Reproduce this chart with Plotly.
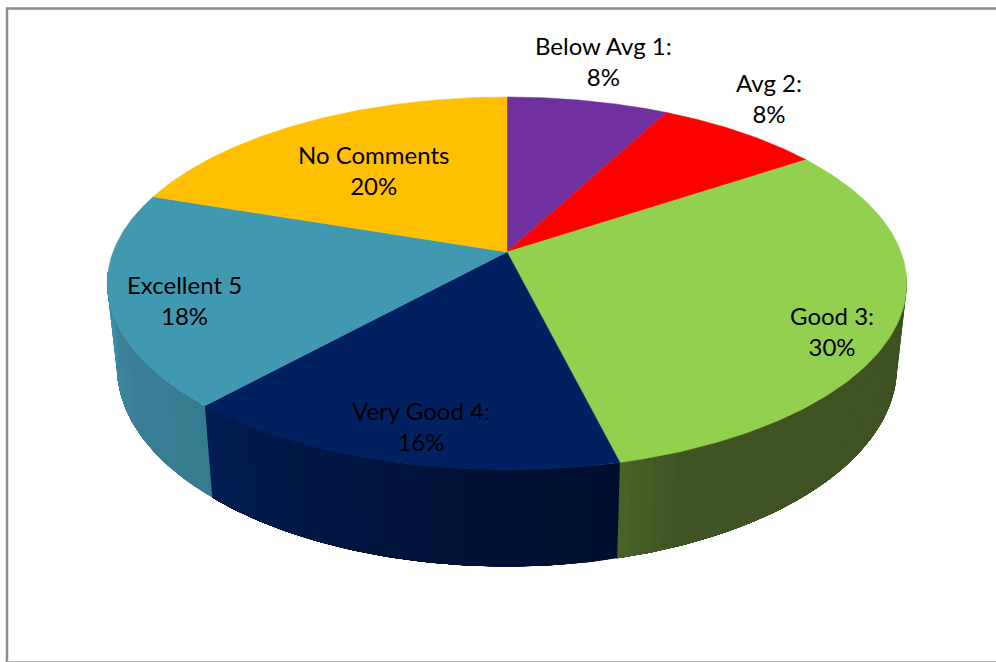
import numpy as np
import plotly.graph_objects as go

# ---- data ----
labels = ["Below Avg 1:", "Avg 2:", "Good 3:", "Very Good 4:", "Excellent 5", "No Comments"]
percent_labels = [8, 8, 30, 16, 18, 20]
# slice sizes as measured on the picture (percent of the full circle)
slice_shares = [7.7, 7.9, 30.55, 15.55, 18.5, 19.8]

# ---- styles ----
top_colors = ["#7030A0", "#FF0000", "#92D050", "#002060", "#4198B1", "#FFC000"]
side_shades = {
    2: [(0.0, "#3D5121"), (0.88, "#3F5323"), (1.0, "#4A6329")],
    3: [(0.0, "#000F30"), (0.4, "#001238"), (1.0, "#001C50")],
    4: [(0.0, "#367C90"), (0.45, "#3A7E96"), (1.0, "#438CA8")],
}
label_pos = [(603, 61), (769, 98), (832, 331), (421, 426), (184, 300), (373, 170)]

# ---- projection: circle on the pie's top and bottom faces to the page ----
CX = 507
K = 0.169
TOP = dict(a=394.0, b=181.2, y0=252.0)
BOT = dict(a=384.4, b=194.0, y0=333.0)
WALL_FROM, WALL_TO = np.radians(96), np.radians(264)


def project(theta, face):
    x, y = np.sin(theta), np.cos(theta)
    w = 1 + K * y
    return CX + face["a"] * x / w, face["y0"] - face["b"] * y / w


def hex2rgb(h):
    return np.array([int(h[i:i + 2], 16) for i in (1, 3, 5)], float)


def shade(stops, t):
    for (t0, c0), (t1, c1) in zip(stops, stops[1:]):
        if t <= t1:
            m = (t - t0) / (t1 - t0)
            r = hex2rgb(c0) * (1 - m) + hex2rgb(c1) * m
            return "#%02X%02X%02X" % tuple(int(round(v)) for v in r)
    return stops[-1][1]


fractions = np.array(slice_shares, float) / sum(slice_shares)
edges = np.concatenate([[0], np.cumsum(fractions)]) * 2 * np.pi

fig = go.Figure()


def add_poly(xs, ys, color, width=0.0):
    fig.add_trace(go.Scatter(
        x=xs, y=ys, mode="lines", fill="toself", fillcolor=color,
        line=dict(color=color, width=width), hoverinfo="skip", showlegend=False,
    ))


# side walls: painted band over band so no seams appear
for i, stops in side_shades.items():
    start = max(edges[i], WALL_FROM)
    end = min(edges[i + 1], WALL_TO)
    n = 48
    steps = np.linspace(start, end, n + 1)
    for j in range(n):
        a = np.linspace(steps[j], end, 80)
        xt, yt = project(a, TOP)
        xb, yb = project(a, BOT)
        add_poly(np.concatenate([xt, xb[::-1], xt[:1]]),
                 np.concatenate([yt, yb[::-1], yt[:1]]),
                 shade(stops, (j + 0.5) / n))

# top face
for i, color in enumerate(top_colors):
    a = np.linspace(edges[i], edges[i + 1], 120)
    xe, ye = project(a, TOP)
    add_poly(np.concatenate([[CX], xe, [CX]]),
             np.concatenate([[TOP["y0"]], ye, [TOP["y0"]]]), color, 0.5)

# labels
annotations = [
    dict(x=p[0], y=p[1], text=f"{lab}<br>{val}%", showarrow=False,
         xanchor="center", yanchor="middle", align="center",
         font=dict(family="Lato", size=24, color="#000000"))
    for lab, val, p in zip(labels, percent_labels, label_pos)
]

frame = [
    dict(type="line", x0=7, x1=7, y0=8, y1=662, line=dict(color="#8C8C8C", width=2.5)),
    dict(type="line", x0=6, x1=996, y0=8.5, y1=8.5, line=dict(color="#8C8C8C", width=2.5)),
    dict(type="line", x0=7, x1=996, y0=661.5, y1=661.5, line=dict(color="#BEBEBE", width=1)),
]

fig.update_layout(
    width=996, height=662, autosize=False,
    margin=dict(l=0, r=0, t=0, b=0),
    paper_bgcolor="#FFFFFF", plot_bgcolor="#FFFFFF",
    xaxis=dict(range=[0, 996], visible=False, fixedrange=True),
    yaxis=dict(range=[662, 0], visible=False, fixedrange=True),
    annotations=annotations, shapes=frame, showlegend=False,
)
fig.write_html("out.html", post_script="document.body.style.margin='0';",
               config={"displayModeBar": False})
